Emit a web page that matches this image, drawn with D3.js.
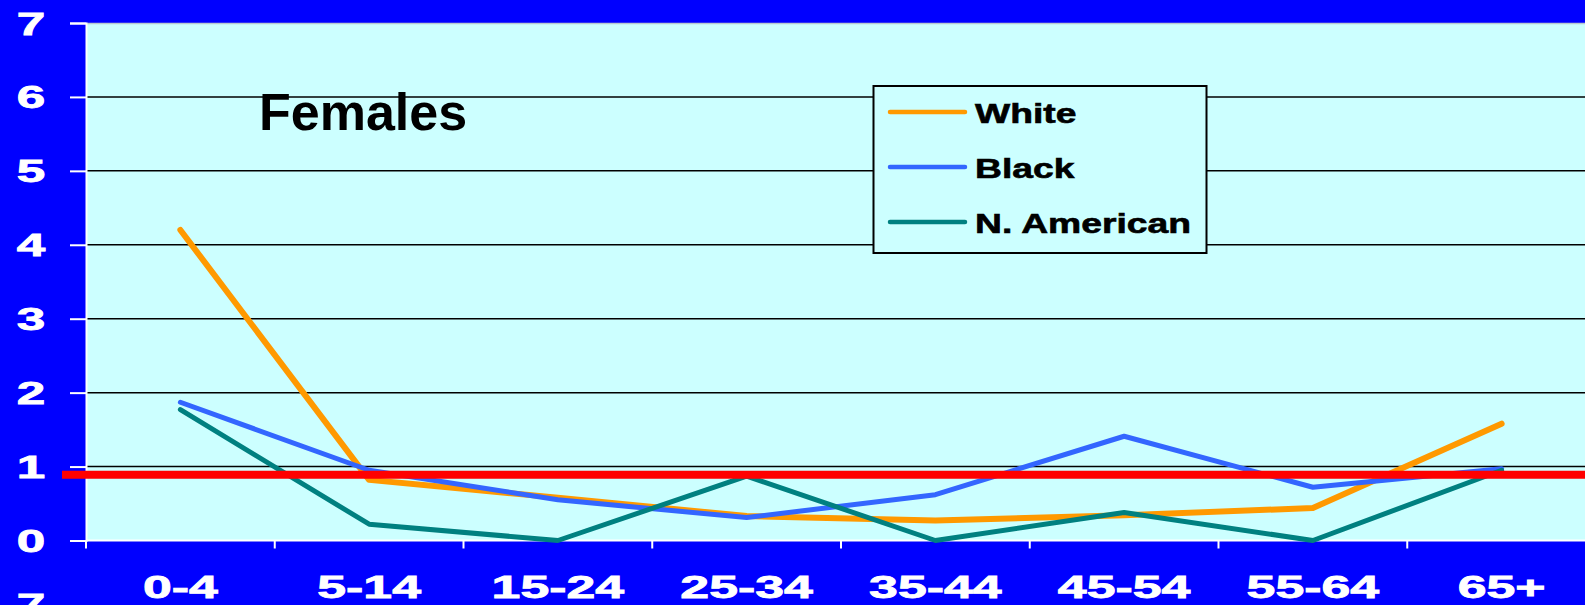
<!DOCTYPE html>
<html>
<head>
<meta charset="utf-8">
<script src="https://cdn.jsdelivr.net/npm/d3@7"></script>
<style>
  html, body { margin: 0; padding: 0; background: #0000FF; overflow: hidden; }
  svg { display: block; }
  text { font-family: "Liberation Sans", Arial, sans-serif; font-weight: bold; }
</style>
</head>
<body>
<svg id="chart" width="1585" height="605"></svg>
<script>
// Age groups and relative rates per population group
const ageGroups = ["0-4", "5-14", "15-24", "25-34", "35-44", "45-54", "55-64", "65+"];
const white      = [4.2, 0.82, 0.58, 0.33, 0.27, 0.34, 0.44, 1.58];
const black      = [1.87, 0.95, 0.55, 0.31, 0.62, 1.41, 0.72, 0.97];
const nAmerican  = [1.77, 0.22, 0.0, 0.87, 0.0, 0.38, 0.0, 0.95];
const yTicks     = [0, 1, 2, 3, 4, 5, 6, 7];
const reference  = 0.89;   // level of the red reference band
const seriesNames = ["White", "Black", "N. American"];

const series = [
  { name: seriesNames[0], values: white,     color: "#FF9900", width: 6 },
  { name: seriesNames[1], values: black,     color: "#3366FF", width: 5 },
  { name: seriesNames[2], values: nAmerican, color: "#008080", width: 5 }
];

const svg = d3.select("#chart");
const W = 1585, H = 605;
const plotL = 86, plotT = 23, plotB = 540.5, plotR = 1596;

svg.append("rect").attr("width", W).attr("height", H).attr("fill", "#0000FF");

const x = d3.scaleBand().domain(ageGroups).range([plotL, plotR]).paddingInner(0).paddingOuter(0);
const y = d3.scaleLinear().domain([0, 7]).range([plotB, plotT]);
const cx = d => x(d) + x.bandwidth() / 2;

// plot area
svg.append("rect")
  .attr("x", plotL).attr("y", plotT)
  .attr("width", plotR - plotL).attr("height", plotB - plotT)
  .attr("fill", "#CCFFFF");

// top border
svg.append("line")
  .attr("x1", plotL).attr("x2", plotR).attr("y1", plotT + 0.5).attr("y2", plotT + 0.5)
  .attr("stroke", "#B8C8D0").attr("stroke-width", 1.5);

// horizontal gridlines
svg.append("g").selectAll("line")
  .data(yTicks.filter(t => t > 0 && t < 7))
  .join("line")
  .attr("x1", plotL).attr("x2", plotR)
  .attr("y1", d => y(d)).attr("y2", d => y(d))
  .attr("stroke", "#000").attr("stroke-width", 1.5);

// y axis
const yAxis = svg.append("g")
  .attr("transform", `translate(${plotL},0)`)
  .call(d3.axisLeft(y).tickValues(yTicks).tickSize(16).tickFormat(""));
yAxis.selectAll("path, line").attr("stroke", "#fff").attr("stroke-width", 2);

svg.append("g").selectAll("text")
  .data(yTicks)
  .join("text")
  .attr("transform", d => `translate(31,${y(d) + 11.5}) scale(1.6,1)`)
  .attr("text-anchor", "middle")
  .attr("fill", "#fff")
  .attr("stroke", "#fff").attr("stroke-width", 0.8)
  .attr("font-size", 32)
  .text(d => d);

// x axis with ticks at band boundaries
const xBoundaries = ageGroups.map(g => x(g));
svg.append("line")
  .attr("x1", plotL).attr("x2", plotR).attr("y1", plotB).attr("y2", plotB)
  .attr("stroke", "#fff").attr("stroke-width", 2);
svg.append("g").selectAll("line")
  .data(xBoundaries)
  .join("line")
  .attr("x1", d => d).attr("x2", d => d)
  .attr("y1", plotB).attr("y2", plotB + 8)
  .attr("stroke", "#fff").attr("stroke-width", 2);

svg.append("g").selectAll("text")
  .data(ageGroups)
  .join("text")
  .attr("transform", d => `translate(${cx(d)},598) scale(1.62,1)`)
  .attr("text-anchor", "middle")
  .attr("fill", "#fff")
  .attr("stroke", "#fff").attr("stroke-width", 0.8)
  .attr("font-size", 32)
  .text(d => d);

// label of the next panel, cut off at the bottom edge
svg.append("text")
  .attr("transform", "translate(31,616) scale(1.6,1)")
  .attr("text-anchor", "middle")
  .attr("fill", "#fff")
  .attr("stroke", "#fff").attr("stroke-width", 0.8)
  .attr("font-size", 32)
  .text(yTicks[7]);

// series lines
const line = d3.line()
  .x((d, i) => cx(ageGroups[i]))
  .y(d => y(d));

svg.append("g").selectAll("path")
  .data(series)
  .join("path")
  .attr("d", s => line(s.values))
  .attr("fill", "none")
  .attr("stroke", s => s.color)
  .attr("stroke-width", s => s.width)
  .attr("stroke-linejoin", "round")
  .attr("stroke-linecap", "round");

// reference line
svg.append("line")
  .attr("x1", 62).attr("x2", W)
  .attr("y1", y(reference)).attr("y2", y(reference))
  .attr("stroke", "#FF0000").attr("stroke-width", 8);

// title
svg.append("text")
  .attr("x", 259).attr("y", 130)
  .attr("fill", "#000")
  .attr("font-size", 52)
  .text("Females");

// legend
const lg = svg.append("g");
lg.append("rect")
  .attr("x", 873.5).attr("y", 86)
  .attr("width", 333).attr("height", 167)
  .attr("fill", "#CCFFFF")
  .attr("stroke", "#000").attr("stroke-width", 2);
const legendY = [112, 167, 222];
series.forEach((s, i) => {
  lg.append("line")
    .attr("x1", 890).attr("x2", 965)
    .attr("y1", legendY[i]).attr("y2", legendY[i])
    .attr("stroke", s.color).attr("stroke-width", 4.5)
    .attr("stroke-linecap", "round");
  lg.append("text")
    .attr("transform", `translate(975,${legendY[i] + 11}) scale(1.38,1)`)
    .attr("fill", "#000")
    .attr("stroke", "#000").attr("stroke-width", 0.6)
    .attr("font-size", 27)
    .text(s.name);
});
</script>
</body>
</html>
